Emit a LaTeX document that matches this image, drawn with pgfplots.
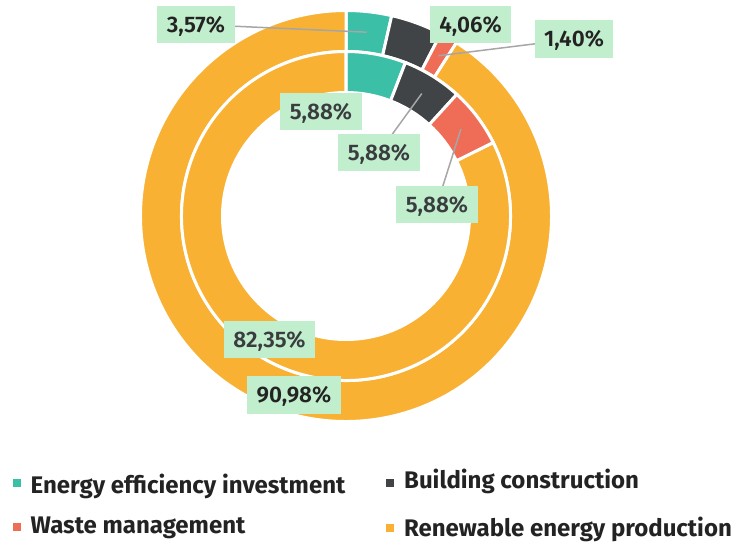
\documentclass[border=0pt]{standalone}
\usepackage{pgfplots}
\pgfplotsset{compat=1.18}
\usepackage{pgfplotstable}
\usepackage{fontspec}
\setmainfont{Fira Sans}[BoldFont={Fira Sans SemiBold}]
\newfontfamily\legfam{Fira Sans}
\definecolor{cteal}{HTML}{3BBFA7}
\definecolor{cdark}{HTML}{404447}
\definecolor{cred}{HTML}{EF6C57}
\definecolor{corange}{HTML}{F8B133}
\definecolor{boxgreen}{HTML}{C1EECC}
\definecolor{leader}{HTML}{A6A6A6}
\definecolor{txtA}{HTML}{232323}
\definecolor{txtB}{HTML}{3A3D40}
\colorlet{col0}{cteal}\colorlet{col1}{cdark}\colorlet{col2}{cred}\colorlet{col3}{corange}

\pgfplotstableread{
seg value
0 3.57
1 4.06
2 1.40
3 90.98
}\outerdata
\pgfplotstableread{
seg value
0 5.88
1 5.88
2 5.88
3 82.35
}\innerdata

\newcommand\computeangles[2]{%
  \pgfplotstablegetrowsof{#1}%
  \pgfmathtruncatemacro\lastrow{\pgfplotsretval-1}%
  \gdef\cum{0}%
  \foreach \i in {0,...,\lastrow}{%
    \pgfplotstablegetelem{\i}{value}\of{#1}%
    \let\val\pgfplotsretval
    \pgfmathsetmacro\sa{90-3.6*\cum}%
    \pgfmathsetmacro\ea{90-3.6*(\cum+\val)}%
    \pgfmathsetmacro\ma{90-3.6*(\cum+\val/2)}%
    \expandafter\xdef\csname #2s\i\endcsname{\sa}%
    \expandafter\xdef\csname #2e\i\endcsname{\ea}%
    \expandafter\xdef\csname #2m\i\endcsname{\ma}%
    \pgfmathsetmacro\nc{\cum+\val}%
    \xdef\cum{\nc}%
  }%
}
\computeangles{\outerdata}{o}
\computeangles{\innerdata}{i}

\newcommand\lblfont{\fontsize{22.5}{26}\selectfont\bfseries}
\newcommand\legfont{\legfam\fontsize{24}{28}\selectfont\bfseries}
\tikzset{lbl/.style={fill=boxgreen, font=\lblfont, inner xsep=9.5pt, inner ysep=11pt,
  text height=15.4pt, text depth=0pt, anchor=center}}

\begin{document}
\begin{tikzpicture}
\begin{axis}[width=736pt, height=542pt, scale only axis,
  xmin=0, xmax=736, ymin=0, ymax=542, hide axis, clip=false]
\path (axis cs:0,0) (axis cs:736,542);
% outer ring
\pgfplotsinvokeforeach{0,...,3}{
  \fill[col#1, draw=white, line width=3pt]
    ([shift={(\csname os#1\endcsname:205.5pt)}]axis cs:346,326)
    arc[start angle=\csname os#1\endcsname, end angle=\csname oe#1\endcsname, radius=205.5pt]
    -- ([shift={(\csname oe#1\endcsname:164.5pt)}]axis cs:346,326)
    arc[start angle=\csname oe#1\endcsname, end angle=\csname os#1\endcsname, radius=164.5pt]
    -- cycle;
}
% inner ring
\pgfplotsinvokeforeach{0,...,3}{
  \fill[col#1, draw=white, line width=3pt]
    ([shift={(\csname is#1\endcsname:164.5pt)}]axis cs:346,326)
    arc[start angle=\csname is#1\endcsname, end angle=\csname ie#1\endcsname, radius=164.5pt]
    -- ([shift={(\csname ie#1\endcsname:123.5pt)}]axis cs:346,326)
    arc[start angle=\csname ie#1\endcsname, end angle=\csname is#1\endcsname, radius=123.5pt]
    -- cycle;
}
% leader lines
\draw[leader, line width=1.5pt] ([shift={(\csname om0\endcsname:185pt)}]axis cs:346,326) -- (axis cs:196,517.5);
\draw[leader, line width=1.5pt] ([shift={(\csname om2\endcsname:185pt)}]axis cs:346,326) -- (axis cs:574,503);
\draw[leader, line width=1.5pt] ([shift={(\csname im1\endcsname:144pt)}]axis cs:346,326) -- (axis cs:379,389.5);
\draw[leader, line width=1.5pt] ([shift={(\csname im2\endcsname:144pt)}]axis cs:346,326) -- (axis cs:437,337.5);
% labels
\node[lbl, text=txtA] at (axis cs:196,517.5) {3,57\%};
\node[lbl, text=txtA] at (axis cs:470.5,517.5) {4,06\%};
\node[lbl, text=txtA] at (axis cs:574,503) {1,40\%};
\node[lbl, text=txtB] at (axis cs:321,430.5) {5,88\%};
\node[lbl, text=txtB] at (axis cs:379,389.5) {5,88\%};
\node[lbl, text=txtB] at (axis cs:437,337.5) {5,88\%};
\node[lbl, text=txtB] at (axis cs:269.5,202.5) {82,35\%};
\node[lbl, text=txtA] at (axis cs:294,147) {90,98\%};
% legend
\node[fill=cteal, minimum size=8pt, inner sep=0pt] at (axis cs:16.5,59.5) {};
\node[fill=cdark, minimum size=8pt, inner sep=0pt] at (axis cs:390,59.5) {};
\node[fill=cred, minimum size=8pt, inner sep=0pt] at (axis cs:16.5,15) {};
\node[fill=corange, minimum size=8pt, inner sep=0pt] at (axis cs:390,14) {};
\node[anchor=base west, inner sep=0pt, font=\legfont, text=txtA] at (axis cs:30.5,49) {Energy efficiency investment};
\node[anchor=base west, inner sep=0pt, font=\legfont, text=txtA] at (axis cs:404,54) {Building construction};
\node[anchor=base west, inner sep=0pt, font=\legfont, text=txtA] at (axis cs:30.5,8.7) {Waste management};
\node[anchor=base west, inner sep=0pt, font=\legfont, text=txtA] at (axis cs:404,6) {Renewable energy production};
\end{axis}
\end{tikzpicture}
\end{document}
